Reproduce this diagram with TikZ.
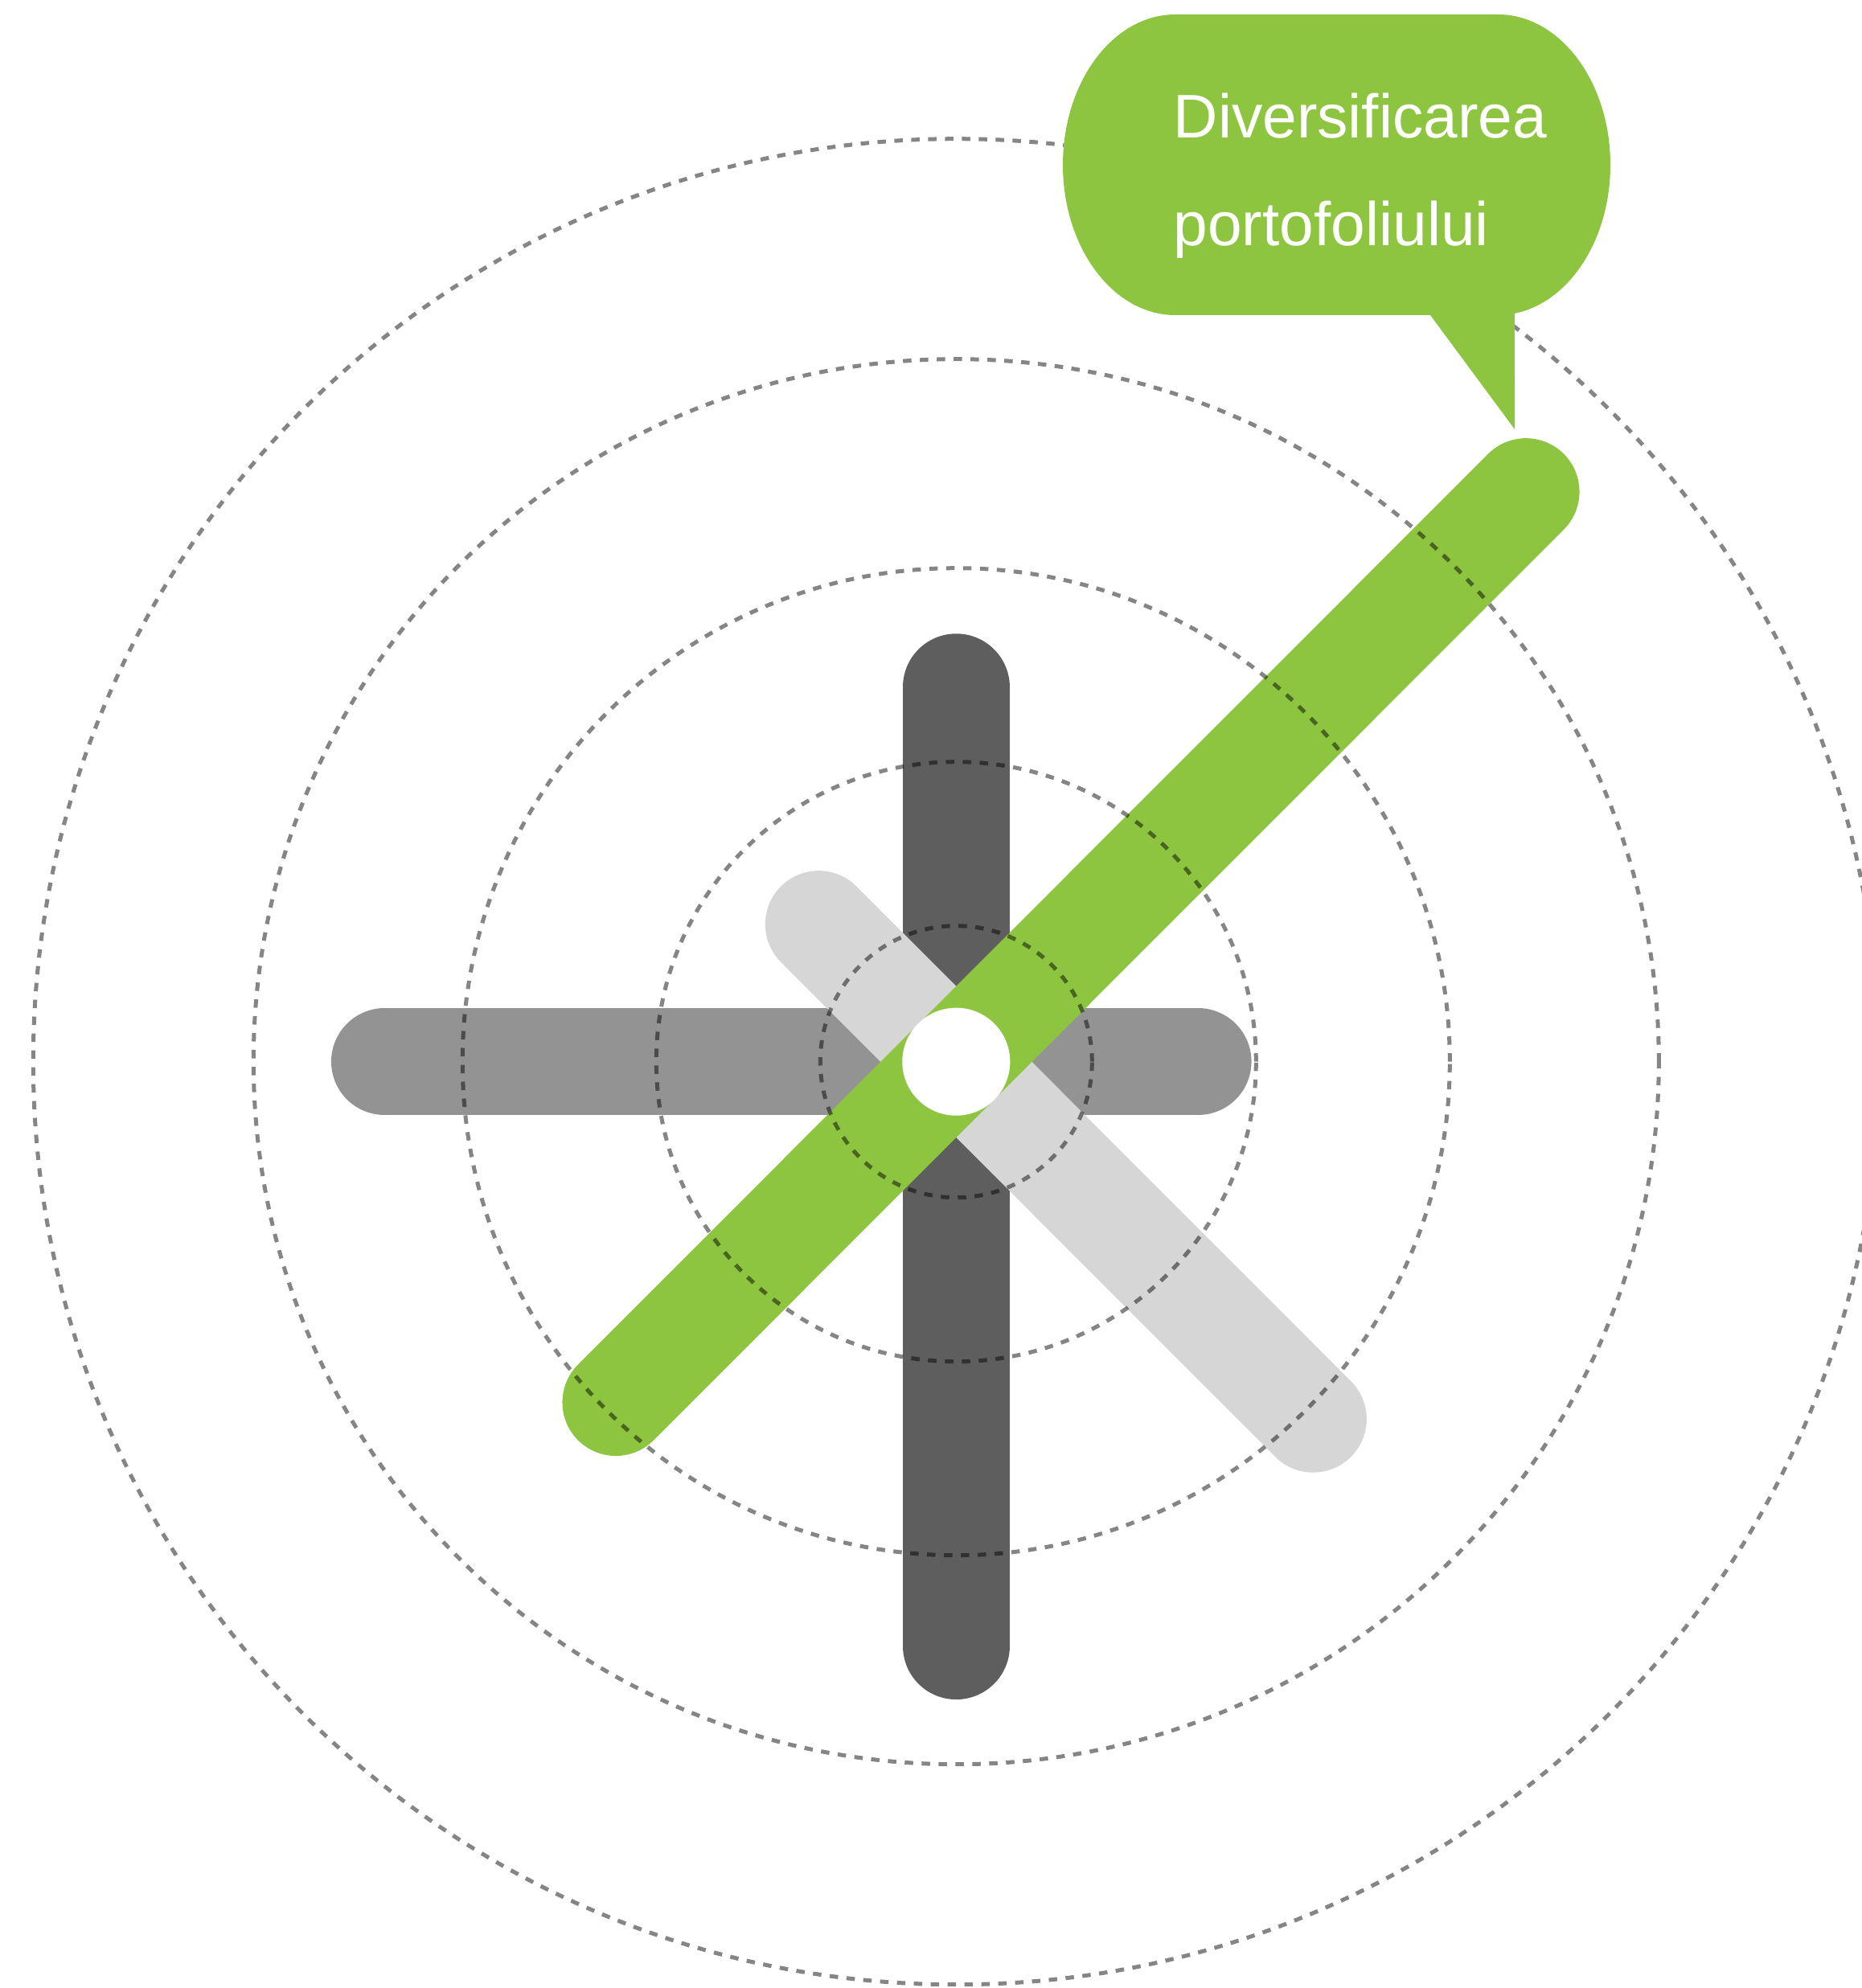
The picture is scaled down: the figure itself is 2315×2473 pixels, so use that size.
\documentclass[tikz,border=0pt]{standalone}
\usepackage{fontspec}
\setmainfont{Liberation Sans}
\definecolor{barDark}{HTML}{5E5E5E}
\definecolor{barMid}{HTML}{939393}
\definecolor{barLight}{HTML}{D6D6D6}
\definecolor{leafGreen}{HTML}{8DC540}
\begin{document}
\begin{tikzpicture}[x=0.01cm,y=0.01cm,
  bar/.style={line width=1.33cm, line cap=round},
  ring/.style={draw=black, draw opacity=0.48, line width=0.05cm, dash pattern=on 0.105cm off 0.105cm},
  bubbletext/.style={text=white, font=\fontsize{21.8pt}{26pt}\selectfont, inner sep=0pt, anchor=base west}]
\useasboundingbox (0,0) rectangle (2315,-2473);
% key points
\coordinate (O) at (1189.3,-1320.7);
\coordinate (hL) at (478.5,-1320.7);
\coordinate (hR) at (1490,-1320.7);
\coordinate (vT) at (1189.3,-854.8);
\coordinate (vB) at (1189.3,-2047.5);
\coordinate (lA) at (1018.3,-1149.7);
\coordinate (lB) at (1633.3,-1765.2);
\coordinate (gA) at (766,-1744.5);
\coordinate (gB) at (1898,-611.7);
% bars
\draw[bar, barMid] (hL) -- (hR);
\draw[bar, barDark] (vT) -- (vB);
\draw[bar, barLight] (lA) -- (lB);
\draw[bar, leafGreen] (gA) -- (gB);
\node[circle, fill=white, minimum size=1.34cm, inner sep=0pt] (hub) at (O) {};
% dashed rings
\draw[ring] (O) circle[radius=169];
\draw[ring] (O) circle[radius=373];
\draw[ring] (O) circle[radius=614];
\draw[ring] (O) circle[radius=874];
\draw[ring] (O) circle[radius=1148];
% speech bubble
\fill[leafGreen] (1462,-18) -- (1863,-18)
  arc[start angle=90, end angle=-81.4, x radius=140, y radius=187]
  -- (1884,-534) -- (1779,-392) -- (1462,-392)
  arc[start angle=270, end angle=90, x radius=140, y radius=187] -- cycle;
\node[bubbletext] (t1) at (1459,-171.5) {Diversificarea};
\node[bubbletext] (t2) at (1459,-306) {portofoliului};
\end{tikzpicture}
\end{document}
